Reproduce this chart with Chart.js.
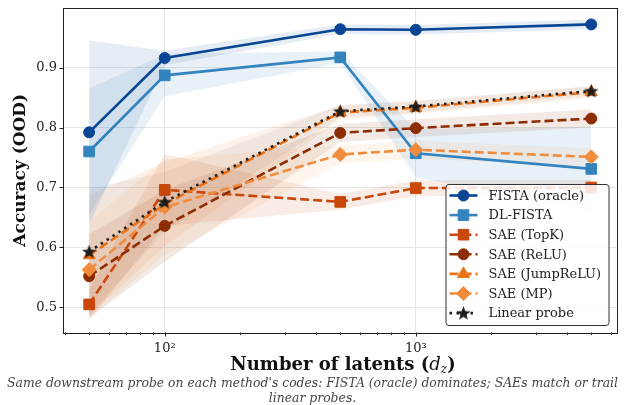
<!DOCTYPE html>
<html>
<head>
<meta charset="utf-8">
<script src="https://cdn.jsdelivr.net/npm/chart.js@4.4.1/dist/chart.umd.min.js"></script>
<style>
  body { margin: 0; background: #fff; }
  #wrap { position: relative; width: 625px; height: 405px; overflow: hidden; }
  #chart { position: absolute; left: 0; top: 0; }
  #xtitle { position: absolute; left: 64px; width: 558px; top: 353px; text-align: center;
            font: bold 18px "DejaVu Serif", serif; color: #111; }
  #xtitle i { font-weight: normal; }
  #xtitle sub { font-size: 12px; font-weight: normal; font-style: italic; vertical-align: -3px; line-height: 0; }
  #caption { position: absolute; left: 0; width: 625px; top: 375px; text-align: center;
             font: italic 12.4px "DejaVu Serif", serif; color: #444; line-height: 15px; }
</style>
</head>
<body>
<div id="wrap">
  <canvas id="chart" width="625" height="355"></canvas>
  <div id="xtitle">Number of latents (<i>d</i><sub>z</sub>)</div>
  <div id="caption">Same downstream probe on each method's codes: FISTA (oracle) dominates; SAEs match or trail<br>linear probes.</div>
</div>
<script>
// x positions (number of latents)
const latents = [50, 100, 500, 1000, 5000];

// mean accuracy per method
const fistaOracle = [0.792, 0.916, 0.964, 0.963, 0.972];
const dlFista     = [0.760, 0.887, 0.917, 0.757, 0.731];
const saeTopK     = [0.505, 0.696, 0.676, 0.699, 0.700];
const saeReLU     = [0.552, 0.636, 0.791, 0.799, 0.815];
const saeJumpReLU = [0.587, 0.672, 0.825, 0.833, 0.859];
const saeMP       = [0.563, 0.667, 0.755, 0.763, 0.751];
const linearProbe = [0.593, 0.676, 0.827, 0.835, 0.861];

// half width of shaded bands
const fistaOracleSpread = [0.153, 0.012, 0.008, 0.008, 0.008];
const dlFistaSpread     = [0.105, 0.035, 0.010, 0.040, 0.070];
const saeTopKSpread     = [0.025, 0.060, 0.013, 0.013, 0.013];
const saeReLUSpread     = [0.070, 0.060, 0.015, 0.015, 0.015];
const saeJumpReLUSpread = [0.100, 0.070, 0.012, 0.010, 0.010];
const saeMPSpread       = [0.080, 0.080, 0.015, 0.015, 0.015];
const linearProbeSpread = [0.105, 0.050, 0.010, 0.010, 0.008];

const yTicks = [0.5, 0.6, 0.7, 0.8, 0.9];
const xMajor = [100, 1000];

function makeStar(size, color) {
  const c = document.createElement('canvas');
  c.width = size; c.height = size;
  const g = c.getContext('2d');
  const R = size / 2, r = R * 0.42;
  g.beginPath();
  for (let i = 0; i < 10; i++) {
    const a = -Math.PI / 2 + i * Math.PI / 5;
    const rr = i % 2 ? r : R;
    g.lineTo(size / 2 + rr * Math.cos(a), size / 2 + 0.5 + rr * Math.sin(a));
  }
  g.closePath();
  g.fillStyle = color;
  g.fill();
  return c;
}
const star = makeStar(15, '#1e1e1e');

const series = [
  { label: 'FISTA (oracle)', y: fistaOracle, s: fistaOracleSpread, color: '#084594', band: 'rgba(8,69,148,0.10)', dash: [], style: 'circle', r: 5.5 },
  { label: 'DL-FISTA', y: dlFista, s: dlFistaSpread, color: '#3383bf', band: 'rgba(51,131,191,0.11)', dash: [], style: 'rect', r: 7.5 },
  { label: 'SAE (TopK)', y: saeTopK, s: saeTopKSpread, color: '#c9470b', band: 'rgba(201,71,11,0.10)', dash: [9, 4], style: 'rect', r: 7.5 },
  { label: 'SAE (ReLU)', y: saeReLU, s: saeReLUSpread, color: '#8c2d04', band: 'rgba(140,45,4,0.10)', dash: [9, 4], style: 'circle', r: 5.5 },
  { label: 'SAE (JumpReLU)', y: saeJumpReLU, s: saeJumpReLUSpread, color: '#ec7014', band: 'rgba(236,112,20,0.09)', dash: [9, 4], style: 'triangle', r: 7 },
  { label: 'SAE (MP)', y: saeMP, s: saeMPSpread, color: '#f08c3c', band: 'rgba(240,140,60,0.09)', dash: [9, 4], style: 'rectRot', r: 7 },
  { label: 'Linear probe', y: linearProbe, s: linearProbeSpread, color: '#1e1e1e', band: 'rgba(40,40,40,0.06)', dash: [2.5, 4.5], style: star, r: 6 }
];

const datasets = [];
// bands first (behind everything)
series.forEach((m, i) => {
  datasets.push({
    data: latents.map((x, k) => ({ x: x, y: m.y[k] - m.s[k] })),
    borderColor: 'transparent', borderWidth: 0, pointRadius: 0, fill: false, order: 50 + i
  });
  datasets.push({
    data: latents.map((x, k) => ({ x: x, y: m.y[k] + m.s[k] })),
    borderColor: 'transparent', borderWidth: 0, pointRadius: 0, fill: '-1', backgroundColor: m.band, order: 50 + i
  });
});
series.forEach((m, i) => {
  datasets.push({
    label: m.label,
    data: latents.map((x, k) => ({ x: x, y: m.y[k] })),
    borderColor: m.color, backgroundColor: m.color,
    borderWidth: 2.6, borderDash: m.dash, tension: 0, fill: false,
    pointStyle: m.style, pointRadius: m.r, pointBackgroundColor: m.color,
    pointBorderColor: m.color, pointBorderWidth: 1,
    order: 10 - i
  });
});

// box, tick marks and legend
const extras = {
  id: 'extras',
  afterDatasetsDraw(chart) {
    const ctx = chart.ctx, a = chart.chartArea;
    const xs = chart.scales.x, ys = chart.scales.y;
    ctx.save();
    ctx.strokeStyle = '#222';
    ctx.lineWidth = 1;
    ctx.strokeRect(Math.round(a.left) - 0.5, Math.round(a.top) - 0.5, Math.round(a.right - a.left) + 1, Math.round(a.bottom - a.top) + 1);
    ctx.beginPath();
    yTicks.forEach(v => {
      const py = Math.round(ys.getPixelForValue(v)) + 0.5;
      ctx.moveTo(a.left - 0.5, py); ctx.lineTo(a.left - 4.5, py);
    });
    xs.ticks.forEach(t => {
      const px = Math.round(xs.getPixelForValue(t.value)) + 0.5;
      const len = xMajor.includes(t.value) ? 4 : 2.5;
      ctx.moveTo(px, a.bottom + 0.5); ctx.lineTo(px, a.bottom + 0.5 + len);
    });
    ctx.stroke();

    // legend
    const w = 163, h = 141;
    const lx = a.right - 8 - w, ly = a.bottom - 7 - h;
    ctx.beginPath();
    ctx.roundRect(lx + 0.5, ly + 0.5, w, h, 3);
    ctx.fillStyle = 'rgba(255,255,255,0.85)';
    ctx.fill();
    ctx.strokeStyle = '#333';
    ctx.stroke();
    ctx.font = '13px "DejaVu Serif", serif';
    ctx.textBaseline = 'middle';
    series.forEach((m, i) => {
      const ry = ly + 11.5 + i * 19.6;
      ctx.save();
      ctx.strokeStyle = m.color;
      ctx.lineWidth = 2.6;
      ctx.setLineDash(m.dash);
      ctx.beginPath();
      ctx.moveTo(lx + 4, ry); ctx.lineTo(lx + 32, ry);
      ctx.stroke();
      ctx.setLineDash([]);
      ctx.fillStyle = m.color;
      ctx.lineWidth = 1;
      Chart.helpers.drawPoint(ctx, { pointStyle: m.style, radius: m.r, rotation: 0, borderWidth: 1 }, lx + 18, ry);
      ctx.restore();
      ctx.fillStyle = '#222';
      ctx.fillText(m.label, lx + 43, ry + 1);
    });
    ctx.restore();
  }
};

new Chart(document.getElementById('chart'), {
  type: 'line',
  data: { datasets: datasets },
  options: {
    responsive: false,
    animation: false,
    layout: { padding: { left: 0, right: 3, top: 7, bottom: 0 } },
    plugins: { legend: { display: false }, tooltip: { enabled: false } },
    scales: {
      x: {
        type: 'logarithmic',
        min: 39.7, max: 6300,
        border: { display: false },
        grid: {
          drawTicks: false,
          color: ctx => (ctx.tick && xMajor.includes(ctx.tick.value)) ? '#e6e6e6' : 'transparent'
        },
        afterBuildTicks: scale => {
          const vals = [];
          [10, 100, 1000].forEach(d => {
            for (let k = 1; k <= 9; k++) {
              const v = d * k;
              if (v >= scale.min && v <= scale.max) vals.push({ value: v });
            }
          });
          scale.ticks = vals;
        },
        afterFit: scale => { scale.height = 23; scale.paddingLeft = 0; scale.paddingRight = 0; },
        ticks: {
          autoSkip: false, maxRotation: 0, padding: 9, color: '#222',
          font: { family: 'DejaVu Serif', size: 13 },
          callback: v => v === 100 ? '10²' : (v === 1000 ? '10³' : '')
        }
      },
      y: {
        min: 0.459, max: 0.9985,
        border: { display: false },
        grid: { drawTicks: false, color: '#e6e6e6' },
        afterFit: scale => { scale.width = 64; scale.paddingTop = 0; scale.paddingBottom = 0; },
        title: {
          display: true, text: 'Accuracy (OOD)', color: '#111',
          font: { family: 'DejaVu Serif', size: 17, weight: 'bold' },
          padding: { top: 10, bottom: 0 }
        },
        ticks: {
          stepSize: 0.1, includeBounds: false, padding: 7, color: '#222',
          font: { family: 'DejaVu Serif', size: 13 },
          callback: v => v.toFixed(1)
        }
      }
    }
  },
  plugins: [extras]
});
</script>
</body>
</html>
